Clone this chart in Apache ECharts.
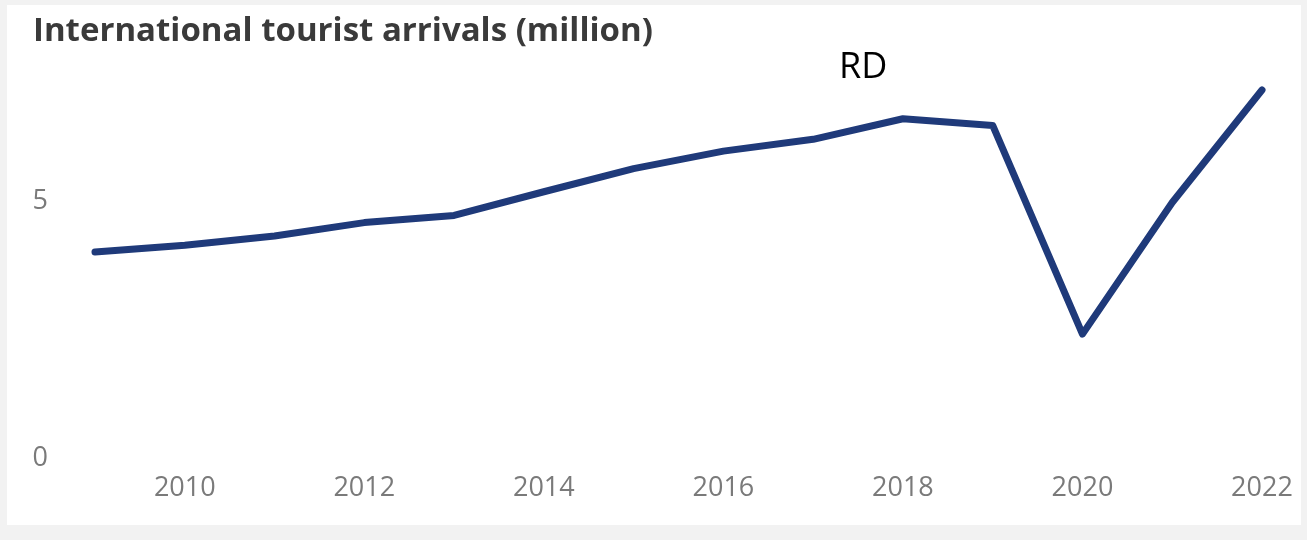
<!DOCTYPE html>
<html>
<head>
<meta charset="utf-8">
<script src="https://cdn.jsdelivr.net/npm/echarts@6/dist/echarts.min.js"></script>
<style>
html,body{margin:0;padding:0;background:#f2f2f2;}
#c{width:1307px;height:540px;}
</style>
</head>
<body>
<div id="c"></div>
<script>
const years = ['2009','2010','2011','2012','2013','2014','2015','2016','2017','2018','2019','2020','2021','2022'];
const arrivals = [4.01, 4.14, 4.32, 4.58, 4.72, 5.18, 5.63, 5.97, 6.2, 6.6, 6.47, 2.41, 4.97, 7.16];
const titleText = 'International tourist arrivals (million)';
const labelText = 'RD';

const chart = echarts.init(document.getElementById('c'));
chart.setOption({
  backgroundColor: '#f2f2f2',
  animation: false,
  graphic: [
    {type: 'rect', z: -10, shape: {x: 7, y: 5, width: 1294, height: 520}, style: {fill: '#ffffff'}},
    {type: 'text', z: 10, left: 33, top: 15, style: {text: titleText, fill: '#3a3a3a', font: 'bold 33px "Open Sans", sans-serif'}},
    {type: 'text', z: 10, left: 839, top: 50, style: {text: labelText, fill: '#000000', font: '36px "Open Sans", sans-serif'}}
  ],
  grid: {left: 95, right: 45, top: 72.5, bottom: 82, containLabel: false},
  xAxis: {
    type: 'category',
    data: years,
    boundaryGap: false,
    axisLine: {show: false},
    axisTick: {show: false},
    splitLine: {show: false},
    axisLabel: {
      interval: function (i, v) { return Number(v) % 2 === 0; },
      color: '#7a7a7a', fontSize: 27, fontFamily: '"Open Sans", sans-serif', margin: 17
    }
  },
  yAxis: {
    type: 'value',
    min: 0, max: 7.5, interval: 5,
    axisLine: {show: false},
    axisTick: {show: false},
    splitLine: {show: false},
    axisLabel: {
      formatter: function (v) { return v % 5 === 0 ? String(v) : ''; },
      color: '#7a7a7a', fontSize: 27, fontFamily: '"Open Sans", sans-serif', margin: 47
    }
  },
  series: [{
    type: 'line',
    data: arrivals,
    symbol: 'none',
    lineStyle: {color: '#1f3a7a', width: 7, join: 'round', cap: 'round'}
  }]
});
</script>
</body>
</html>
